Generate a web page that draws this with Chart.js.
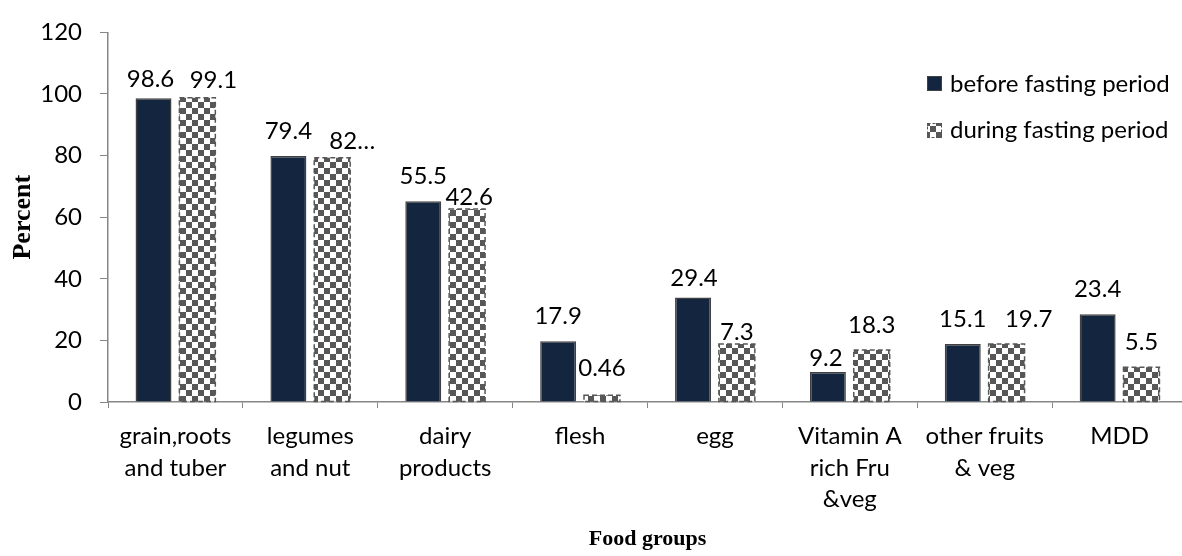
<!DOCTYPE html>
<html>
<head>
<meta charset="utf-8">
<script src="https://cdn.jsdelivr.net/npm/chart.js@4"></script>
<style>
  html, body { margin: 0; padding: 0; background: #fff; overflow: hidden; }
  #wrap { width: 1190px; height: 556px; }
</style>
</head>
<body>
<div id="wrap"><canvas id="foodChart" width="1190" height="556"></canvas></div>
<script>
// values
const categories = [
  ['grain,roots', 'and tuber'], ['legumes', 'and nut'], ['dairy', 'products'],
  'flesh', 'egg', ['Vitamin A', 'rich Fru', '&veg'], ['other fruits', '& veg'], 'MDD'
];
const seriesNames = ['before fasting period', 'during fasting period'];
const beforeValues = [98.6, 79.9, 65.2, 19.7, 33.9, 9.7, 18.8, 28.5];
const duringValues = [98.8, 79.3, 62.7, 2.2, 18.8, 16.9, 18.8, 11.3];
const beforeLabels = ['98.6', '79.4', '55.5', '17.9', '29.4', '9.2', '15.1', '23.4'];
const duringLabels = ['99.1', '82…', '42.6', '0.46', '7.3', '18.3', '19.7', '5.5'];
const yTicks = [0, 20, 40, 60, 80, 100, 120];

const navy = '#14253f';
const axisGray = '#868686';
const checkGray = '#575757';
const labelFont = '24px Lato';

// a few value labels were moved by hand in the original: [dx, dy]
const labelShift = {
  '0-0': [-3, 6], '1-0': [16, 8], '1-1': [20, 9], '1-2': [2, 13],
  '1-3': [0, -2], '0-4': [1, 6], '1-4': [0, 13], '0-5': [-2, 11], '1-6': [22, 0]
};

// checkerboard fill for the second series
function makeChecker(cell) {
  const c = document.createElement('canvas');
  c.width = cell * 2; c.height = cell * 2;
  const g = c.getContext('2d');
  g.fillStyle = '#fff';
  g.fillRect(0, 0, c.width, c.height);
  g.fillStyle = checkGray;
  g.fillRect(0, 0, cell, cell);
  g.fillRect(cell, cell, cell, cell);
  return g.createPattern(c, 'repeat');
}
const ctxEl = document.getElementById('foodChart');
const checker = makeChecker(6);

const barText = {
  id: 'barText',
  afterDatasetsDraw(chart) {
    const ctx = chart.ctx;
    ctx.save();
    // dashed outline of the checker bars
    chart.getDatasetMeta(1).data.forEach(bar => {
      ctx.strokeStyle = checkGray;
      ctx.lineWidth = 1.5;
      ctx.setLineDash([5, 3]);
      const w = bar.width;
      ctx.strokeRect(bar.x - w / 2, bar.y, w, bar.base - bar.y);
    });
    ctx.setLineDash([]);
    ctx.font = labelFont;
    ctx.fillStyle = '#000';
    ctx.textAlign = 'center';
    ctx.textBaseline = 'middle';
    [beforeLabels, duringLabels].forEach((labels, d) => {
      chart.getDatasetMeta(d).data.forEach((bar, i) => {
        const s = labelShift[d + '-' + i] || [0, 0];
        ctx.fillText(labels[i], bar.x + s[0], bar.y - 25 + s[1]);
      });
    });
    ctx.restore();
  }
};

const sideLegend = {
  id: 'sideLegend',
  afterDraw(chart) {
    const ctx = chart.ctx;
    ctx.save();
    ctx.font = labelFont;
    ctx.textBaseline = 'middle';
    ctx.textAlign = 'left';
    // before
    ctx.fillStyle = navy;
    ctx.fillRect(927, 76, 15, 15);
    ctx.strokeStyle = '#404040';
    ctx.lineWidth = 1;
    ctx.strokeRect(927.5, 76.5, 14, 14);
    ctx.fillStyle = '#000';
    ctx.fillText(seriesNames[0], 950, 84);
    // during
    ctx.fillStyle = checker;
    ctx.fillRect(927, 123, 15, 15);
    ctx.strokeStyle = checkGray;
    ctx.setLineDash([3, 2]);
    ctx.strokeRect(927.5, 123.5, 14, 14);
    ctx.setLineDash([]);
    ctx.fillStyle = '#000';
    ctx.fillText(seriesNames[1], 950, 130);
    ctx.restore();
  }
};

new Chart(ctxEl, {
  type: 'bar',
  data: {
    labels: categories,
    datasets: [{
      label: seriesNames[0],
      data: beforeValues,
      backgroundColor: navy,
      borderColor: '#404040',
      borderWidth: 1.5,
      categoryPercentage: 0.65,
      barPercentage: 0.82
    }, {
      label: seriesNames[1],
      data: duringValues,
      backgroundColor: checker,
      borderWidth: 0,
      categoryPercentage: 0.65,
      barPercentage: 0.82
    }]
  },
  options: {
    responsive: false,
    animation: false,
    layout: { padding: { top: 20, right: 3, left: 0, bottom: 0 } },
    plugins: {
      legend: { display: false },
      tooltip: { enabled: false }
    },
    scales: {
      x: {
        grid: {
          offset: true,
          drawOnChartArea: false,
          tickLength: 6,
          color: axisGray
        },
        border: { color: axisGray, width: 1.5 },
        ticks: {
          font: { family: 'Lato', size: 24, lineHeight: 1.3 },
          color: '#000',
          padding: 13,
          maxRotation: 0,
          autoSkip: false
        },
        title: {
          display: true,
          text: 'Food groups',
          font: { family: 'Liberation Serif', size: 22, weight: 'bold' },
          color: '#000',
          padding: { top: 0, bottom: 3 }
        },
        afterFit(scale) { scale.height = 154; }
      },
      y: {
        min: 0,
        max: 120,
        afterBuildTicks(scale) { scale.ticks = yTicks.map(v => ({ value: v })); },
        grid: {
          drawOnChartArea: false,
          tickLength: 8,
          color: axisGray
        },
        border: { color: axisGray, width: 1.5 },
        ticks: {
          font: { family: 'Lato', size: 24 },
          color: '#000',
          padding: 18
        },
        title: {
          display: true,
          text: 'Percent',
          font: { family: 'Liberation Serif', size: 26, weight: 'bold' },
          color: '#000',
          padding: { top: 8, bottom: 0 }
        },
        afterFit(scale) { scale.width = 108; }
      }
    }
  },
  plugins: [barText, sideLegend]
});
</script>
</body>
</html>
